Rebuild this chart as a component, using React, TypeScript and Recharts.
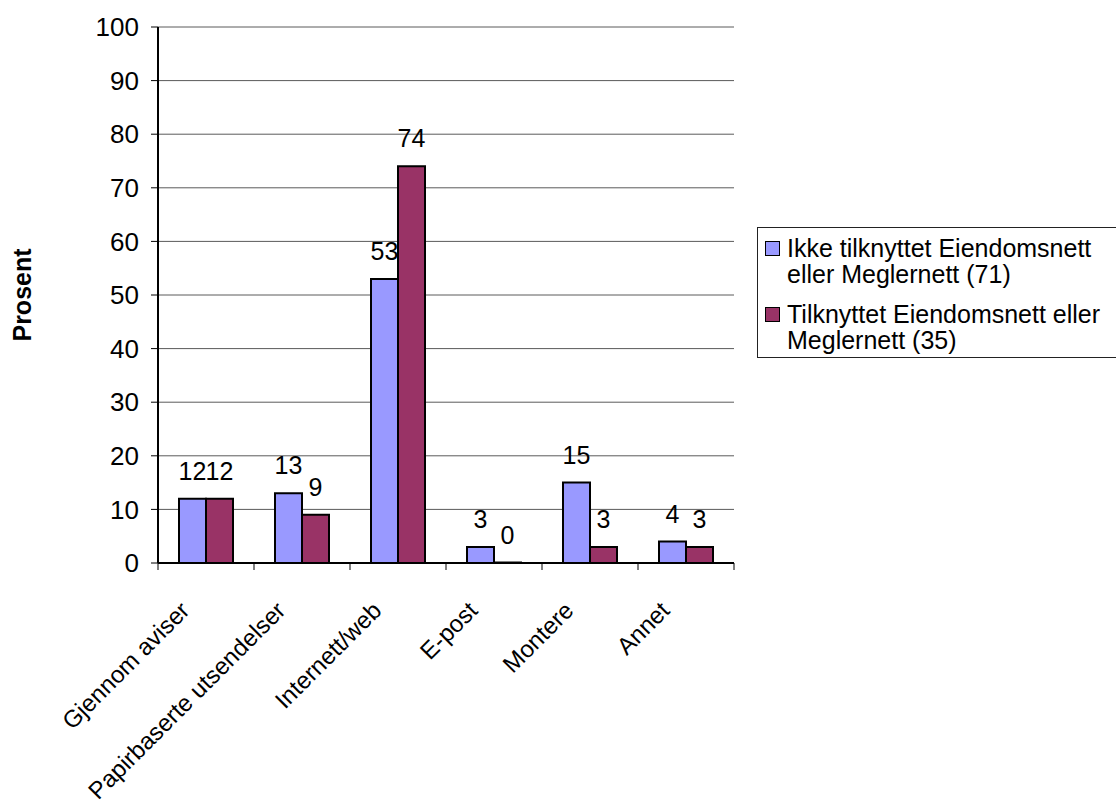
import {
  BarChart,
  Bar,
  XAxis,
  YAxis,
  CartesianGrid,
  Legend,
  LabelList,
  ReferenceArea,
} from "recharts";

const categories = [
  "Gjennom aviser",
  "Papirbaserte utsendelser",
  "Internett/web",
  "E-post",
  "Montere",
  "Annet",
];
const ikkeTilknyttet = [12, 13, 53, 3, 15, 4];
const tilknyttet = [12, 9, 74, 0, 3, 3];
const seriesNames = [
  "Ikke tilknyttet Eiendomsnett eller Meglernett (71)",
  "Tilknyttet Eiendomsnett eller Meglernett (35)",
];
const seriesColors = ["#9999FF", "#993366"];
const yTicks = [0, 10, 20, 30, 40, 50, 60, 70, 80, 90, 100];

const data = categories.map((name, i) => ({
  name,
  ikke: ikkeTilknyttet[i],
  tilknyttet: tilknyttet[i],
}));

const FONT = '"Liberation Sans", Arial, sans-serif';

// Category tick: tick marks sit between categories, labels slanted 45°
function CategoryTick(props: any) {
  const { x, y, payload, index, visibleTicksCount } = props;
  const half = payload?.offset || 48;
  const isLast = index === (visibleTicksCount ?? categories.length) - 1;
  return (
    <g>
      <line x1={x - half} y1={y} x2={x - half} y2={y + 7} stroke="#000" />
      {isLast && (
        <line x1={x + half} y1={y} x2={x + half} y2={y + 7} stroke="#000" />
      )}
      <text
        transform={`translate(${x - 15},${y + 49}) rotate(-45)`}
        textAnchor="end"
        fontSize={24}
        fontFamily={FONT}
        fill="#000"
      >
        {payload.value}
      </text>
    </g>
  );
}

function LegendBox({ payload }: any) {
  return (
    <div
      style={{
        border: "1px solid #222",
        background: "#fff",
        padding: "7px 0 4px 7px",
        width: 370,
        boxSizing: "border-box",
        fontFamily: FONT,
        fontSize: 25,
        lineHeight: "26px",
        color: "#000",
      }}
    >
      {(payload ?? []).map((entry: any, i: number) => (
        <div
          key={i}
          style={{ display: "flex", alignItems: "flex-start", marginTop: i ? 14 : 0 }}
        >
          <span
            style={{
              width: 15,
              height: 15,
              marginTop: 6,
              marginRight: 7,
              background: seriesColors[i],
              border: "1.5px solid #000",
              boxSizing: "border-box",
              flex: "none",
            }}
          />
          <span style={{ width: 330 }}>{entry.value}</span>
        </div>
      ))}
    </div>
  );
}

export default function App() {
  return (
    <div
      style={{
        position: "absolute",
        left: 0,
        top: 0,
        width: 1116,
        height: 808,
        overflow: "hidden",
        background: "#fff",
      }}
    >
      <BarChart
        width={1116}
        height={808}
        data={data}
        margin={{ top: 27, right: 382, bottom: 0, left: 0 }}
        barCategoryGap={21}
        barGap={0}
      >
        <CartesianGrid vertical={false} stroke="#5a5a5a" />
        <ReferenceArea fill="none" stroke="#999" strokeWidth={2} />
        <XAxis
          dataKey="name"
          height={245}
          interval={0}
          tickSize={0}
          tickMargin={0}
          tickLine={false}
          axisLine={{ stroke: "#000", strokeWidth: 2 }}
          tick={<CategoryTick />}
        />
        <YAxis
          width={158}
          domain={[0, 100]}
          ticks={yTicks}
          interval={0}
          tickSize={7}
          tickMargin={12}
          axisLine={{ stroke: "#000", strokeWidth: 2 }}
          tickLine={{ stroke: "#000" }}
          tick={{ fontSize: 26, fill: "#000", fontFamily: FONT }}
          label={{
            value: "Prosent",
            angle: -90,
            position: "insideLeft",
            offset: 22,
            style: {
              textAnchor: "middle",
              fontWeight: "bold",
              fontSize: 25,
              fill: "#000",
              fontFamily: FONT,
            },
          }}
        />
        <Legend
          layout="vertical"
          align="center"
          verticalAlign="middle"
          wrapperStyle={{ left: 757, top: 227, width: 370 }}
          content={<LegendBox />}
        />
        <Bar
          dataKey="ikke"
          name={seriesNames[0]}
          fill={seriesColors[0]}
          stroke="#000"
          strokeWidth={2}
          minPointSize={0.5}
          isAnimationActive={false}
        >
          <LabelList
            dataKey="ikke"
            position="top"
            offset={19}
            fontSize={25}
            fill="#000"
            fontFamily={FONT}
          />
        </Bar>
        <Bar
          dataKey="tilknyttet"
          name={seriesNames[1]}
          fill={seriesColors[1]}
          stroke="#000"
          strokeWidth={2}
          minPointSize={0.5}
          isAnimationActive={false}
        >
          <LabelList
            dataKey="tilknyttet"
            position="top"
            offset={19}
            fontSize={25}
            fill="#000"
            fontFamily={FONT}
          />
        </Bar>
      </BarChart>
    </div>
  );
}
